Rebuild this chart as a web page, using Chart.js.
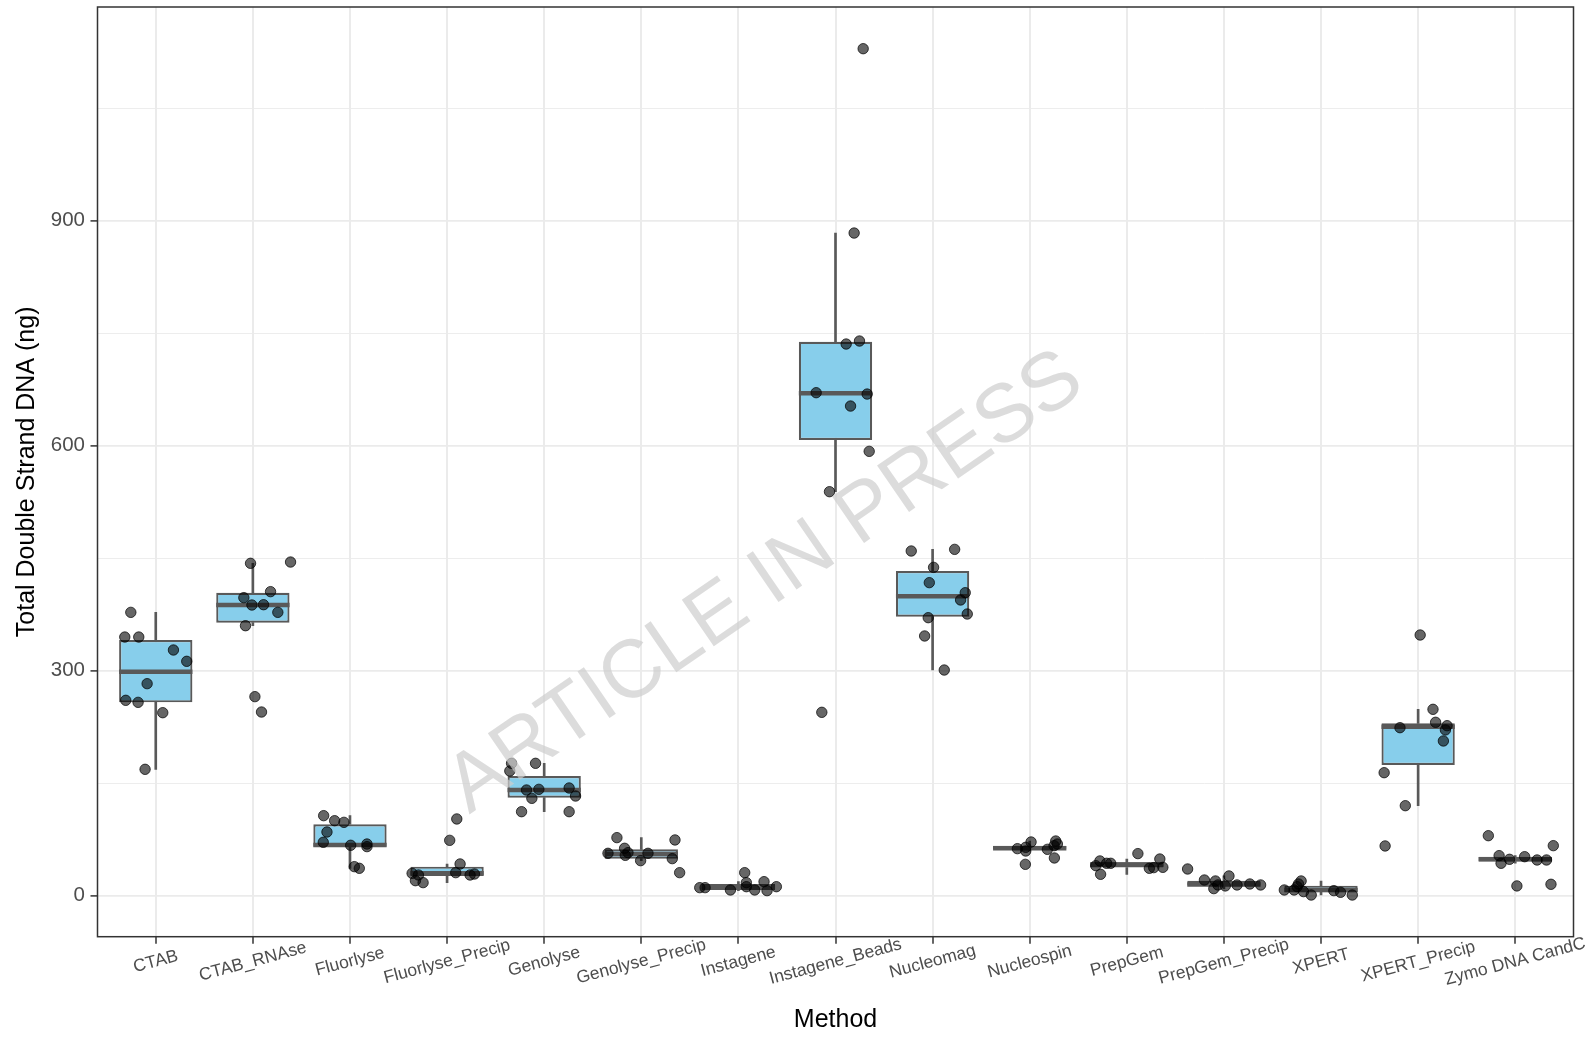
<!DOCTYPE html>
<html><head><meta charset="utf-8">
<script src="https://cdn.jsdelivr.net/npm/chart.js@4.4.1/dist/chart.umd.min.js"></script>
<style>html,body{margin:0;padding:0;background:#fff;}#wrap{width:1588px;height:1039px;}</style>
</head><body>
<div id="wrap"><canvas id="c" width="1588" height="1039"></canvas></div>
<script>
// ---------- DATA ----------
const categories = ['CTAB','CTAB_RNAse','Fluorlyse','Fluorlyse_Precip','Genolyse','Genolyse_Precip','Instagene','Instagene_Beads','Nucleomag','Nucleospin','PrepGem','PrepGem_Precip','XPERT','XPERT_Precip','Zymo DNA CandC'];

const whiskerLow  = [168.5, 360.0, 36.5, 17.4, 112.0, 46.7, 6.7, 538.7, 300.9, 59.6, 28.5, 9.4, 0.9, 120.0, 43.2];
const q1          = [257.8, 364.0, 65.4, 26.3, 130.7, 49.4, 7.6, 607.6, 372.0, 61.8, 37.6, 13.5, 4.5, 174.3, 45.5];
const medians     = [298.7, 387.6, 67.5, 29.8, 140.9, 55.6, 11.2, 669.8, 399.2, 63.2, 41.5, 15.0, 7.6, 225.4, 48.5];
const q3          = [340.9, 404.0, 95.2, 38.7, 159.6, 61.8, 15.6, 738.7, 432.9, 66.7, 44.5, 20.0, 13.4, 229.8, 52.0];
const whiskerHigh = [377.8, 443.2, 106.7, 42.3, 176.5, 77.4, 18.7, 883.6, 461.8, 72.9, 48.9, 26.3, 19.6, 248.5, 53.4];

// individual measurements per method (ng)
const pointValues = [
  [377.8, 344.9, 344.9, 327.6, 312.5, 282.7, 260.5, 257.8, 244.0, 168.5],
  [443.2, 444.9, 405.4, 397.4, 387.6, 388.0, 377.8, 360.0, 265.4, 244.9],
  [106.7, 100.0, 97.8, 84.9, 71.2, 67.2, 68.9, 65.4, 38.7, 36.5],
  [102.3, 73.8, 42.3, 29.8, 27.6, 30.7, 27.6, 28.9, 20.0, 17.4],
  [176.5, 176.5, 166.3, 140.9, 141.8, 129.8, 143.6, 132.9, 112.0, 112.0],
  [77.4, 74.3, 63.2, 57.4, 56.5, 53.8, 56.5, 46.7, 49.4, 30.7],
  [30.7, 17.4, 18.7, 10.7, 10.7, 7.6, 12.0, 7.6, 6.7, 12.0],
  [1129.4, 883.6, 735.6, 739.6, 670.7, 668.9, 652.9, 592.5, 538.7, 244.5],
  [459.6, 461.8, 437.8, 417.4, 404.0, 394.3, 375.6, 370.7, 346.3, 300.9],
  [71.6, 72.9, 62.7, 64.5, 59.6, 61.8, 66.7, 68.9, 50.3, 41.8],
  [56.1, 46.3, 43.2, 43.2, 40.0, 48.9, 36.5, 37.4, 37.8, 28.5],
  [35.6, 20.9, 19.6, 26.3, 14.3, 9.4, 13.0, 14.3, 15.6, 14.3],
  [7.6, 7.6, 19.6, 15.6, 12.0, 5.4, 0.9, 6.7, 4.5, 0.9],
  [347.6, 248.5, 231.2, 224.0, 226.7, 221.0, 206.3, 164.0, 120.0, 66.3],
  [80.0, 66.7, 53.4, 52.0, 43.2, 48.5, 47.6, 47.6, 13.0, 15.2]
];
// horizontal jitter of each measurement (category units)
const pointJitter = [
  [-0.257, -0.319, -0.175, 0.182, 0.319, -0.089, -0.309, -0.182, 0.072, -0.110],
  [-0.024, 0.388, 0.182, -0.093, -0.010, 0.110, 0.257, -0.076, 0.021, 0.089],
  [-0.271, -0.158, -0.062, -0.237, -0.275, 0.007, 0.175, 0.175, 0.045, 0.096],
  [0.100, 0.027, 0.134, -0.360, -0.295, 0.089, 0.237, 0.282, -0.326, -0.247],
  [-0.336, -0.089, -0.354, -0.182, -0.055, -0.127, 0.257, 0.323, -0.233, 0.257],
  [-0.251, 0.347, -0.172, -0.137, -0.343, -0.165, 0.069, -0.007, 0.319, 0.395],
  [0.065, 0.082, 0.264, -0.398, -0.343, -0.082, 0.082, 0.168, 0.295, 0.391],
  [0.285, 0.192, 0.110, 0.247, -0.199, 0.326, 0.155, 0.347, -0.062, -0.141],
  [-0.220, 0.227, 0.010, -0.034, 0.336, 0.288, 0.357, -0.045, -0.082, 0.120],
  [0.014, 0.268, -0.127, -0.041, -0.041, 0.182, 0.251, 0.285, 0.254, -0.045],
  [0.114, -0.277, -0.208, -0.166, -0.319, 0.340, 0.232, 0.277, 0.371, -0.270],
  [-0.374, -0.201, -0.087, 0.052, -0.062, -0.104, 0.014, 0.135, 0.267, 0.378],
  [-0.378, -0.277, -0.205, -0.232, -0.246, -0.180, -0.101, 0.132, 0.201, 0.322],
  [0.021, 0.153, 0.180, -0.187, 0.298, 0.281, 0.260, -0.350, -0.132, -0.340],
  [-0.277, 0.392, -0.166, 0.097, -0.146, -0.059, 0.225, 0.322, 0.017, 0.368]
];

const yMajorTicks = [0, 300, 600, 900];
const yMinorTicks = [150, 450, 750, 1050];
const yTitle = 'Total Double Strand DNA (ng)';
const xTitle = 'Method';
const watermark = 'ARTICLE IN PRESS';

// ---------- STYLE ----------
const FONT = '"Liberation Sans", Arial, Helvetica, sans-serif';
const BOX_FILL = '#87CEEB';
const BOX_LINE = '#595959';
const BOX_WIDTH = 0.755;
const GRID = '#ebebeb';

Chart.defaults.font.family = FONT;

const boxData = categories.map((c, i) => ({x: i + 1, y: [q1[i], q3[i]]}));
const whiskerHighData = categories.map((c, i) => ({x: i + 1, y: [q3[i], whiskerHigh[i]]}));
const whiskerLowData = categories.map((c, i) => ({x: i + 1, y: [whiskerLow[i], q1[i]]}));
const pointData = [];
pointValues.forEach((vals, i) => vals.forEach((v, j) => pointData.push({x: i + 1 + pointJitter[i][j], y: v})));

const extras = {
  id: 'extras',
  afterDatasetDraw(chart, args) {
    if (chart.data.datasets[args.index].id !== 'boxes') return;
    const {ctx, scales: {x, y}} = chart;
    ctx.save();
    ctx.strokeStyle = BOX_LINE;
    ctx.lineWidth = 4.5;
    medians.forEach((m, i) => {
      const x0 = x.getPixelForValue(i + 1 - BOX_WIDTH / 2);
      const x1 = x.getPixelForValue(i + 1 + BOX_WIDTH / 2);
      const py = y.getPixelForValue(m);
      ctx.beginPath(); ctx.moveTo(x0, py); ctx.lineTo(x1, py); ctx.stroke();
    });
    ctx.restore();
  },
  afterDatasetsDraw(chart) {
    const {ctx, chartArea: a} = chart;
    ctx.save();
    ctx.strokeStyle = '#333333';
    ctx.lineWidth = 1.5;
    ctx.strokeRect(a.left, a.top, a.right - a.left, a.bottom - a.top);
    ctx.restore();
  },
  afterDraw(chart) {
    const {ctx, scales: {x}, chartArea: a} = chart;
    // x tick labels, rotated and centred on their tick
    ctx.save();
    ctx.fillStyle = '#4d4d4d';
    ctx.font = '17.5px ' + FONT;
    ctx.textAlign = 'center';
    ctx.textBaseline = 'middle';
    categories.forEach((c, i) => {
      const px = x.getPixelForValue(i + 1);
      ctx.save();
      ctx.translate(px, a.bottom + 25);
      ctx.rotate(-15 * Math.PI / 180);
      ctx.fillText(c, 0, 0);
      ctx.restore();
    });
    ctx.restore();
    // watermark
    ctx.save();
    ctx.translate(762, 578);
    ctx.rotate(-34.5 * Math.PI / 180);
    ctx.font = '82px ' + FONT;
    ctx.fillStyle = 'rgba(205,205,205,0.7)';
    ctx.textAlign = 'center';
    ctx.textBaseline = 'alphabetic';
    ctx.fillText(watermark, 0, 29);
    ctx.restore();
  }
};

new Chart(document.getElementById('c'), {
  type: 'bar',
  data: {
    datasets: [
      {type: 'scatter', id: 'points', data: pointData, order: 0,
       pointRadius: 5.2, pointHoverRadius: 5.2, borderWidth: 1,
       backgroundColor: 'rgba(0,0,0,0.6)', borderColor: 'rgba(0,0,0,0.72)'},
      {type: 'bar', id: 'boxes', data: boxData, order: 2, grouped: false,
       categoryPercentage: 1, barPercentage: BOX_WIDTH,
       backgroundColor: BOX_FILL, borderColor: BOX_LINE, borderWidth: 2.2, borderSkipped: false},
      {type: 'bar', id: 'whiskHigh', data: whiskerHighData, order: 3, grouped: false,
       barThickness: 2, backgroundColor: BOX_LINE, borderWidth: 0},
      {type: 'bar', id: 'whiskLow', data: whiskerLowData, order: 3, grouped: false,
       barThickness: 2, backgroundColor: BOX_LINE, borderWidth: 0}
    ]
  },
  options: {
    responsive: false,
    devicePixelRatio: 1,
    animation: false,
    layout: {padding: {top: 7, right: 14.5, left: 0, bottom: 0}},
    plugins: {legend: {display: false}, tooltip: {enabled: false}},
    scales: {
      x: {
        type: 'linear', min: 0.4, max: 15.6, offset: false,
        afterBuildTicks: s => { s.ticks = categories.map((c, i) => ({value: i + 1})); },
        afterFit: s => { s.height = 102.3; s.paddingLeft = 0; s.paddingRight = 0; },
        ticks: {callback: () => '', autoSkip: false, maxRotation: 0},
        grid: {color: GRID, lineWidth: 2, offset: false, drawTicks: true, tickLength: 7, tickColor: '#333333', tickWidth: 1.5},
        border: {display: false},
        title: {display: true, text: xTitle, color: '#000', font: {size: 25, family: FONT}, padding: {top: 4, bottom: 4}}
      },
      y: {
        type: 'linear', min: -54.7, max: 1185,
        afterBuildTicks: s => { s.ticks = yMajorTicks.concat(yMinorTicks).sort((a, b) => a - b).map(v => ({value: v})); },
        afterFit: s => { s.width = 97.5; s.paddingTop = 0; s.paddingBottom = 0; },
        ticks: {callback: v => (yMajorTicks.includes(v) ? String(v) : ''), color: '#4d4d4d', font: {size: 20.5, family: FONT}, padding: 5.5, autoSkip: false},
        grid: {
          color: GRID,
          lineWidth: c => (c.tick && yMajorTicks.includes(c.tick.value) ? 1.8 : 0.9),
          tickColor: c => (c.tick && yMajorTicks.includes(c.tick.value) ? '#333333' : 'rgba(0,0,0,0)'),
          tickLength: 7, tickWidth: 1.5
        },
        border: {display: false},
        title: {display: true, text: yTitle, color: '#000', font: {size: 25, family: FONT}, padding: {top: 12, bottom: 0}}
      }
    }
  },
  plugins: [extras]
});
</script></body></html>
